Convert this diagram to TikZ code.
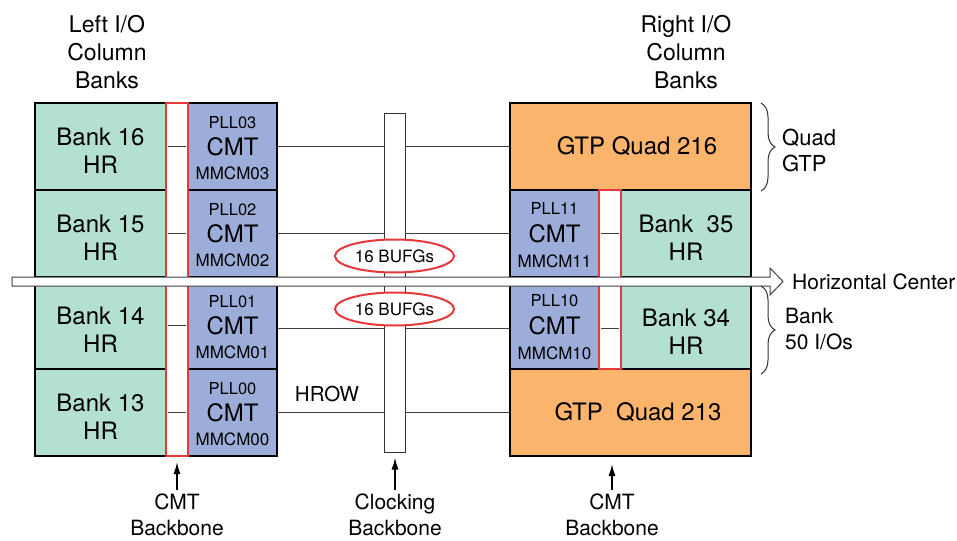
\documentclass[tikz,border=0pt]{standalone}
\usepackage{fontspec}
\setmainfont{TeX Gyre Heros}
\definecolor{bankGreen}{HTML}{B4E0D4}
\definecolor{cmtBlue}{HTML}{9DADD9}
\definecolor{gtpOrange}{HTML}{FBB46C}
\definecolor{backboneRed}{HTML}{E63A3A}
\usetikzlibrary{arrows.meta, positioning, shapes.geometric, calc, decorations.pathreplacing}
\tikzset{
    bank node/.style={rectangle, draw=black, fill=bankGreen, line width=2pt, minimum width=131pt, minimum height=87pt, inner sep=0pt},
    bank text/.style={inner sep=0pt, align=center, font=\fontsize{24}{28}\selectfont},
    cmt node/.style={rectangle, draw=black, fill=cmtBlue, line width=2pt, minimum width=89pt, minimum height=87pt, inner sep=0pt, font=\fontsize{24}{28}\selectfont},
    gtp node/.style={rectangle, draw=black, fill=gtpOrange, line width=2pt, minimum width=241pt, minimum height=87pt, inner sep=0pt},
    backbone node/.style={rectangle, draw=backboneRed, fill=white, line width=2pt, minimum width=22pt, inner sep=0pt},
    clock node/.style={rectangle, draw=black!80, fill=white, line width=1pt, minimum width=21pt, minimum height=338pt, inner sep=0pt},
    bufg node/.style={ellipse, draw=backboneRed, fill=white, line width=2pt, minimum width=119pt, minimum height=33pt, inner sep=0pt, font=\fontsize{17}{20}\selectfont},
    pll text/.style={inner sep=0pt, font=\fontsize{16.5}{20}\selectfont},
    mmcm text/.style={inner sep=0pt, font=\fontsize{17}{20}\selectfont},
    hrow line/.style={black!75, line width=1pt},
    center arrow/.style={draw=black!75, fill=white, line width=1pt},
    label text/.style={inner sep=0pt, align=center, font=\fontsize{21}{26}\selectfont},
    title text/.style={inner sep=0pt, align=center, font=\fontsize{23}{28}\selectfont},
    arrow style/.style={-{Latex[length=12pt, width=7pt]}, line width=1.4pt, black},
    brace style/.style={decorate, decoration={brace, amplitude=14pt}, line width=1pt, black!80},
}

\begin{document}
\begin{tikzpicture}[x=1pt, y=-1pt]
    \useasboundingbox (0,0) rectangle (957,540);

    \foreach \n/\y/\b in {3/146.5/16, 2/233.5/15, 1/325.5/14, 0/412.5/13} {
        \node[bank node] (bankL\n) at (100.5,\y) {};
        \node[bank text] (bankTextL\n) at (100.5,\y+4) {Bank \b\\HR};
        \node[cmt node] (cmtL\n) at (232.5,\y) {CMT};
        \node[pll text] (pllL\n) at ($(cmtL\n)+(0,-24)$) {PLL0\n};
        \node[mmcm text] (mmcmL\n) at ($(cmtL\n)+(0,27)$) {MMCM0\n};
    }

    \node[gtp node] (gtp216) at (630.5,146.5) {};
    \node[bank text] (gtpText216) at (637,146.5) {GTP Quad 216};
    \node[gtp node] (gtp213) at (630.5,412.5) {};
    \node[bank text] (gtpText213) at (638,412.5) {GTP~~Quad 213};
    \foreach \n/\y in {1/233.5, 0/325.5} {
        \node[cmt node] (cmtR\n) at (554.5,\y) {CMT};
        \node[pll text] (pllR\n) at ($(cmtR\n)+(0,-25)$) {PLL1\n};
        \node[mmcm text] (mmcmR\n) at ($(cmtR\n)+(0,28)$) {MMCM1\n};
    }
    \node[bank node, minimum width=130pt] (bankR1) at (686,233.5) {};
    \node[bank text] (bankTextR1) at (686,238) {Bank~~35\\HR};
    \node[bank node, minimum width=130pt] (bankR0) at (686,325.5) {};
    \node[bank text] (bankTextR0) at (686,332) {Bank 34\\HR};

    \node[backbone node, minimum height=353pt] (leftStrip) at (177,279.5) {};
    \node[backbone node, minimum height=179pt] (rightStrip) at (610,279.5) {};

    \foreach \n in {0,1,2,3} {
        \draw[hrow line, shorten <=1.2pt, shorten >=1.2pt] (bankL\n.east) -- (cmtL\n.west);
    }
    \draw[hrow line, shorten <=1.2pt, shorten >=1.2pt] (cmtR1.east) -- (bankR1.west);
    \draw[hrow line, shorten <=1.2pt, shorten >=1.2pt] ([yshift=-2.5pt]cmtR0.east) -- ([yshift=-2.5pt]bankR0.west);

    \draw[hrow line] (cmtL3.east) -- (cmtL3.east -| gtp216.west);
    \draw[hrow line] (cmtL2.east) -- (cmtR1.west);
    \draw[hrow line] ([yshift=-2.5pt]cmtL1.east) -- ([yshift=-2.5pt]cmtR0.west);
    \draw[hrow line] (cmtL0.east) -- (cmtL0.east -| gtp213.west);

    \node[clock node] (clockBackbone) at (394.5,283) {};
    \node[bufg node] (bufgTop) at (394.5,256) {16 BUFGs};
    \node[bufg node] (bufgBottom) at (394.5,309) {16 BUFGs};
    \node[label text, font=\fontsize{20.5}{24}\selectfont] (hrowLabel) at (327,394) {HROW};

    \coordinate (hcStart) at (12,281.5);
    \coordinate (hcTip) at (783,281.5);
    \draw[center arrow] ($(hcStart)+(0,-4.5)$) -- ($(hcTip)+(-13,-4.5)$) -- ++(0,-9) -- (hcTip)
        -- ($(hcTip)+(-13,13.5)$) -- ++(0,-9) -- ($(hcStart)+(0,4.5)$) -- cycle;
    \node[label text, anchor=west] (hcLabel) at ($(hcTip)+(9,0)$) {Horizontal Center};

    \draw[brace style] ($(gtp216.north east)+(9,1)$) -- ($(gtp216.south east)+(9,0)$);
    \node[label text, align=left, anchor=west, font=\fontsize{22}{26}\selectfont] (quadLabel) at (782,150) {Quad\\GTP};
    \draw[brace style] ($(bankR0.north east)+(9,5)$) -- ($(bankR0.south east)+(9,4)$);
    \node[label text, align=left, anchor=west] (bankLabel) at (785,329) {Bank\\50 I/Os};

    \node[title text] (leftTitle) at (107,52) {Left I/O\\Column\\Banks};
    \node[title text] (rightTitle) at (686,52) {Right I/O\\Column\\Banks};

    \node[label text] (leftBB) at (177,515) {CMT\\Backbone};
    \node[label text] (clockBB) at (395,515) {Clocking\\Backbone};
    \node[label text] (rightBB) at (612,515) {CMT\\Backbone};
    \draw[arrow style, shorten <=4pt, shorten >=5pt] (leftBB.north) -- (leftBB.north |- leftStrip.south);
    \draw[arrow style, shorten <=4pt, shorten >=5pt] (clockBB.north) -- (clockBB.north |- clockBackbone.south);
    \draw[arrow style, shorten <=4pt, shorten >=7pt] (rightBB.north) -- (rightBB.north |- gtp213.south);
\end{tikzpicture}
\end{document}
